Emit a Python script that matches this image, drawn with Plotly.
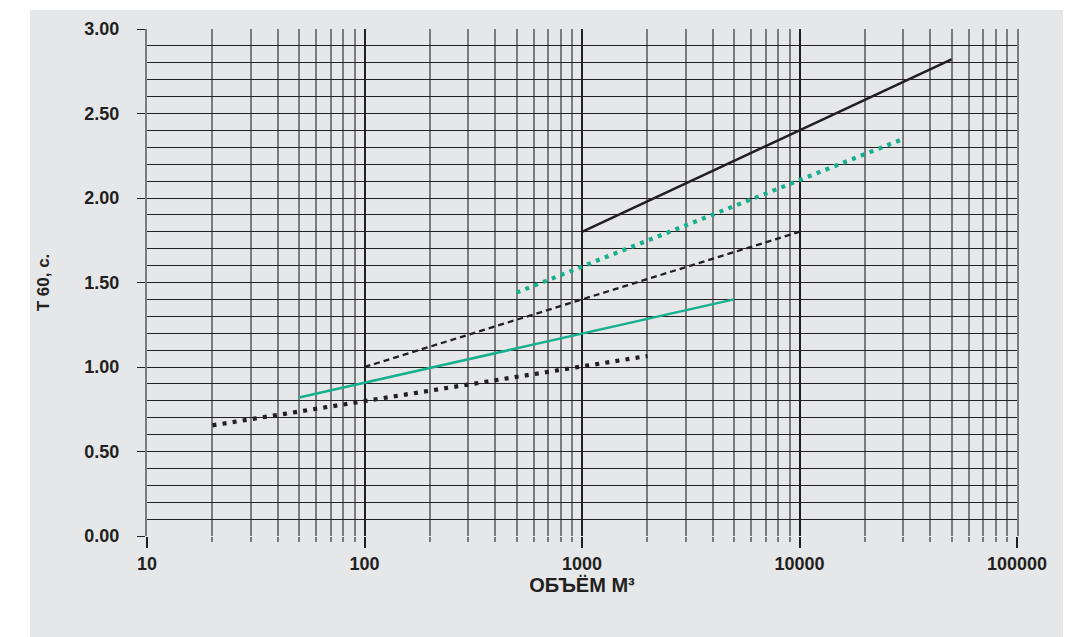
import plotly.graph_objects as go

# ---- data (volume m3 -> T60 s) ----
solid_black_x = [1000, 50000]
solid_black_y = [1.80, 2.82]

dotted_teal_x = [500, 30000]
dotted_teal_y = [1.44, 2.35]

dashed_black_x = [100, 10000]
dashed_black_y = [1.00, 1.80]

solid_teal_x = [50, 5000]
solid_teal_y = [0.82, 1.40]

dotted_black_x = [20, 2000]
dotted_black_y = [0.655, 1.065]

x_tickvals = [10, 100, 1000, 10000, 100000]
x_ticktext = ["10", "100", "1000", "10000", "100000"]
y_tickvals = [0.0, 0.5, 1.0, 1.5, 2.0, 2.5, 3.0]
y_ticktext = ["0.00", "0.50", "1.00", "1.50", "2.00", "2.50", "3.00"]

TEAL = "#17b08e"
DARK = "#231f20"
MINOR = "#7b7c7f"
BG = "#e6e7e9"

fig = go.Figure()
fig.add_trace(go.Scatter(x=dotted_black_x, y=dotted_black_y, mode="lines",
                         line=dict(color=DARK, width=4.2, dash="4px,6.2px")))
fig.add_trace(go.Scatter(x=solid_teal_x, y=solid_teal_y, mode="lines",
                         line=dict(color=TEAL, width=2.5)))
fig.add_trace(go.Scatter(x=dashed_black_x, y=dashed_black_y, mode="lines",
                         line=dict(color=DARK, width=2.3, dash="6px,4px")))
fig.add_trace(go.Scatter(x=dotted_teal_x, y=dotted_teal_y, mode="lines",
                         line=dict(color=TEAL, width=4.2, dash="4px,5.5px")))
fig.add_trace(go.Scatter(x=solid_black_x, y=solid_black_y, mode="lines",
                         line=dict(color=DARK, width=2.5)))

L, R, T, B = 147, 53, 29, 101
W, H = 1070, 637
pw, ph = W - L - R, H - T - B
# grey panel behind the chart
fig.add_shape(type="rect", xref="paper", yref="paper", layer="below",
              x0=(30 - L) / pw, x1=(1063 - L) / pw,
              y0=(H - B - 637) / ph, y1=(H - B - 10) / ph,
              fillcolor=BG, line=dict(width=0))

tickfont = dict(family="Liberation Sans", size=18, color=DARK, weight="bold")
xtitlefont = dict(family="Liberation Sans", size=20, color=DARK, weight="bold")
ytitlefont = dict(family="Liberation Sans", size=17, color=DARK, weight="bold")

fig.update_layout(
    width=W, height=H,
    margin=dict(l=L, r=R, t=T, b=B),
    paper_bgcolor="white", plot_bgcolor="rgba(0,0,0,0)",
    showlegend=False,
    xaxis=dict(
        type="log", range=[1, 5],
        tickvals=x_tickvals, ticktext=x_ticktext,
        tickfont=tickfont,
        ticks="outside", ticklen=11, tickwidth=2, tickcolor=DARK,
        ticklabelstandoff=0,
        showgrid=True, gridcolor=DARK, gridwidth=2.2,
        zeroline=False, showline=False,
        minor=dict(dtick="D1", showgrid=True, gridcolor=MINOR, gridwidth=1.8,
                   ticks="outside", ticklen=5, tickcolor=MINOR, tickwidth=1.8),
        title=dict(text="ОБЪЁМ М³", font=xtitlefont, standoff=1),
    ),
    yaxis=dict(
        range=[0, 3],
        tickvals=y_tickvals, ticktext=y_ticktext,
        tickfont=tickfont,
        ticks="outside", ticklen=8, tickwidth=1.3, tickcolor=DARK,
        ticklabelstandoff=14,
        showgrid=True, gridcolor=DARK, gridwidth=1.3,
        zeroline=False,
        showline=True, mirror=True, linecolor=MINOR, linewidth=2,
        minor=dict(dtick=0.1, showgrid=True, gridcolor=DARK, gridwidth=1.3),
        title=dict(text="T 60, с.", font=ytitlefont, standoff=30),
    ),
)

fig.write_html("out.html")
